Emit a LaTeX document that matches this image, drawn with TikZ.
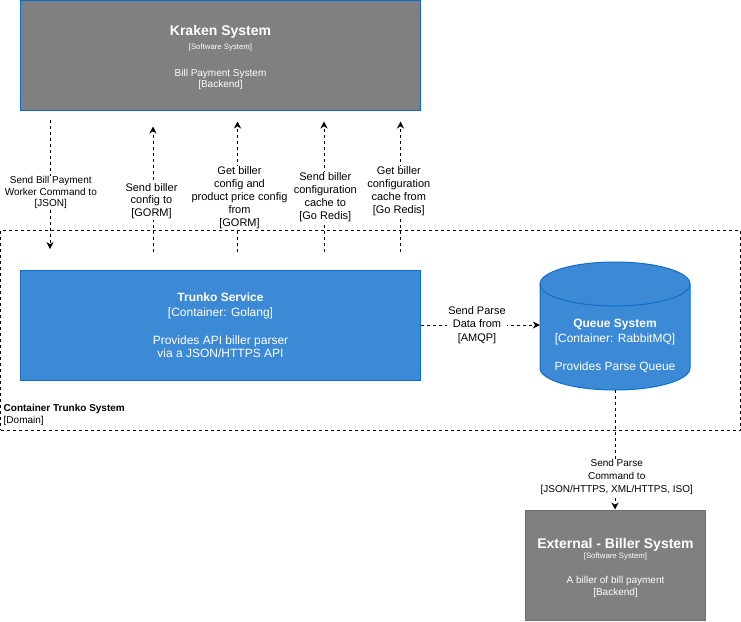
\documentclass[tikz,border=0pt]{standalone}
\usepackage{fontspec}
\setmainfont{Liberation Sans}
\usetikzlibrary{shapes.geometric,arrows.meta}
\definecolor{sysgray}{HTML}{808080}
\definecolor{sysborder}{HTML}{0B6BCB}
\definecolor{contblue}{HTML}{3C8AD5}
\definecolor{contborder}{HTML}{0E6FC9}
\definecolor{extborder}{HTML}{6E6E6E}
\tikzset{
  sysbox/.style={draw=sysborder, fill=sysgray, line width=1pt, minimum width=400pt, minimum height=110pt, inner sep=0pt},
  extbox/.style={draw=extborder, fill=sysgray, line width=1pt, minimum width=180pt, minimum height=110pt, inner sep=0pt},
  contbox/.style={draw=contborder, fill=contblue, line width=1pt, minimum width=400pt, minimum height=110pt, inner sep=0pt},
  boundary/.style={draw=black, line width=0.9pt, dash pattern=on 3pt off 3pt, inner sep=0pt},
  flow/.style={draw=black, line width=0.9pt, dash pattern=on 3pt off 3pt, -{Stealth[length=7pt,width=7pt]}},
  lbl/.style={fill=white, inner sep=1pt, align=center, anchor=north, font=\fontsize{11}{13}\selectfont},
  boxtxt/.style={text=white, inner sep=0pt, align=center, anchor=north},
}
\begin{document}
\begin{tikzpicture}[x=1pt,y=-1pt]
\useasboundingbox (0,0) rectangle (741,621);

% container boundary
\node[boundary, minimum width=739.5pt, minimum height=200pt] (trunkosys) at (370.25,330) {};
\node[inner sep=0pt, anchor=north west, align=left, font=\fontsize{10}{11.5}\selectfont] (systxt) at (3.5,404.5)
  {\textbf{Container Trunko System}\\{[Domain]}};

% Kraken system
\node[sysbox] (kraken) at (220.5,55) {};
\node[boxtxt, font=\fontsize{10}{11.5}\selectfont] (ktxt) at (220.5,25)
  {{\fontsize{14}{16}\selectfont\bfseries Kraken System}\\[2.2pt]
   {\fontsize{7.8}{9}\selectfont [Software System]}\\[15.7pt]
   Bill Payment System\\
   {[Backend]}};

% Trunko service
\node[contbox] (trunko) at (220.5,325) {};
\node[boxtxt, font=\fontsize{12}{13.5}\selectfont] (ttxt) at (220.5,292.9)
  {\textbf{Trunko Service}\\[1.5pt]
   {[Container: Golang]}\\[14pt]
   Provides API biller parser\\
   via a JSON/HTTPS API};

% Queue system (cylinder)
\node[minimum width=150pt, minimum height=128pt, inner sep=0pt] (queue) at (615,326) {};
\path[fill=contblue, draw=contborder, line width=1pt]
  (540,284) -- (540,368)
  arc[start angle=180, end angle=360, x radius=75pt, y radius=22pt]
  -- (690,284)
  arc[start angle=0, end angle=180, x radius=75pt, y radius=22pt] -- cycle;
\draw[contborder, line width=1pt] (540,284) arc[start angle=180, end angle=360, x radius=75pt, y radius=22pt];
\node[boxtxt, font=\fontsize{12}{13.5}\selectfont] (qtxt) at (615,319.4)
  {\textbf{Queue System}\\[1pt]
   {[Container: RabbitMQ]}\\[14.7pt]
   Provides Parse Queue};

% External biller system
\node[extbox] (ext) at (615.5,565) {};
\node[boxtxt, font=\fontsize{10}{11.5}\selectfont] (etxt) at (615.5,538)
  {{\fontsize{14}{16}\selectfont\bfseries External - Biller System}\\[-1.5pt]
   {\fontsize{7.8}{9}\selectfont [Software System]}\\[14.1pt]
   A biller of bill payment\\
   {[Backend]}};

% connector end points
\coordinate (k1s) at (50,120);
\coordinate (k1e) at (50,249);
\coordinate (k2s) at (153,251.5);
\coordinate (k2e) at (153,126.5);
\coordinate (k3s) at (237.5,251.5);
\coordinate (k3e) at (237.5,121.5);
\coordinate (k4s) at (324,251.5);
\coordinate (k4e) at (324,121.5);
\coordinate (k5s) at (400.5,251.5);
\coordinate (k5e) at (400.5,121.5);

\draw[flow] (k1s) -- (k1e);
\draw[flow] (k2s) -- (k2e);
\draw[flow] (k3s) -- (k3e);
\draw[flow] (k4s) -- (k4e);
\draw[flow] (k5s) -- (k5e);
\draw[flow] (trunko.east) -- (trunko.east -| queue.west);
\draw[flow] (queue.south) -- (queue.south |- ext.north);

% connector labels
\node[lbl, font=\fontsize{10}{11.6}\selectfont] (l1) at (50.8,175.3)
  {Send Bill Payment\\Worker Command to\\{[JSON]}};
\node[lbl, font=\fontsize{11}{12.7}\selectfont] (l2) at (151.5,182.1)
  {Send biller\\config to\\{[GORM]}};
\node[lbl] (l3) at (239.5,165.5)
  {Get biller\\config and\\product price config\\from\\{[GORM]}};
\node[lbl] (l4) at (325.3,171.5)
  {Send biller\\configuration\\cache to\\{[Go Redis]}};
\node[lbl] (l5) at (398.8,165.5)
  {Get biller\\configuration\\cache from\\{[Go Redis]}};
\node[lbl, font=\fontsize{11}{13.3}\selectfont] (lp) at (477,305.5)
  {Send Parse\\Data from\\{[AMQP]}};
\node[lbl, font=\fontsize{10}{13}\selectfont] (lb) at (616.7,458.4)
  {Send Parse\\Command to\\{[JSON/HTTPS, XML/HTTPS, ISO]}};
\end{tikzpicture}
\end{document}
